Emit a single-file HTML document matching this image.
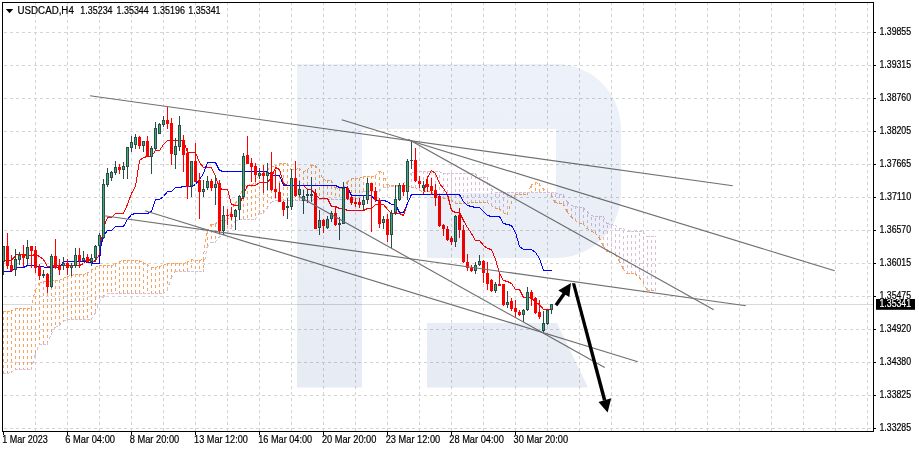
<!DOCTYPE html><html><head><meta charset="utf-8"><title>USDCAD H4</title>
<style>html,body{margin:0;padding:0;background:#fff}svg{display:block}text{font-family:"Liberation Sans",sans-serif;fill:#000}</style></head><body>
<svg width="919" height="452" viewBox="0 0 919 452">
<rect width="919" height="452" fill="#fff"/>
<g stroke="#d4d4d4" stroke-width="1" stroke-dasharray="3 3" shape-rendering="crispEdges">
<line x1="35.5" y1="3" x2="35.5" y2="431" stroke-dashoffset="1"/>
<line x1="67.5" y1="3" x2="67.5" y2="431" stroke-dashoffset="1"/>
<line x1="99.5" y1="3" x2="99.5" y2="431" stroke-dashoffset="1"/>
<line x1="131.5" y1="3" x2="131.5" y2="431" stroke-dashoffset="1"/>
<line x1="163.5" y1="3" x2="163.5" y2="431" stroke-dashoffset="1"/>
<line x1="195.5" y1="3" x2="195.5" y2="431" stroke-dashoffset="1"/>
<line x1="227.5" y1="3" x2="227.5" y2="431" stroke-dashoffset="1"/>
<line x1="259.5" y1="3" x2="259.5" y2="431" stroke-dashoffset="1"/>
<line x1="291.5" y1="3" x2="291.5" y2="431" stroke-dashoffset="1"/>
<line x1="323.5" y1="3" x2="323.5" y2="431" stroke-dashoffset="1"/>
<line x1="355.5" y1="3" x2="355.5" y2="431" stroke-dashoffset="1"/>
<line x1="387.5" y1="3" x2="387.5" y2="431" stroke-dashoffset="1"/>
<line x1="419.5" y1="3" x2="419.5" y2="431" stroke-dashoffset="1"/>
<line x1="451.5" y1="3" x2="451.5" y2="431" stroke-dashoffset="1"/>
<line x1="483.5" y1="3" x2="483.5" y2="431" stroke-dashoffset="1"/>
<line x1="515.5" y1="3" x2="515.5" y2="431" stroke-dashoffset="1"/>
<line x1="547.5" y1="3" x2="547.5" y2="431" stroke-dashoffset="1"/>
<line x1="579.5" y1="3" x2="579.5" y2="431" stroke-dashoffset="1"/>
<line x1="611.5" y1="3" x2="611.5" y2="431" stroke-dashoffset="1"/>
<line x1="643.5" y1="3" x2="643.5" y2="431" stroke-dashoffset="1"/>
<line x1="675.5" y1="3" x2="675.5" y2="431" stroke-dashoffset="1"/>
<line x1="707.5" y1="3" x2="707.5" y2="431" stroke-dashoffset="1"/>
<line x1="739.5" y1="3" x2="739.5" y2="431" stroke-dashoffset="1"/>
<line x1="771.5" y1="3" x2="771.5" y2="431" stroke-dashoffset="1"/>
<line x1="803.5" y1="3" x2="803.5" y2="431" stroke-dashoffset="1"/>
<line x1="835.5" y1="3" x2="835.5" y2="431" stroke-dashoffset="1"/>
<line x1="867.5" y1="3" x2="867.5" y2="431" stroke-dashoffset="1"/>
<line x1="3" y1="32.5" x2="873" y2="32.5" stroke-dashoffset="5"/>
<line x1="3" y1="65.5" x2="873" y2="65.5" stroke-dashoffset="5"/>
<line x1="3" y1="98.5" x2="873" y2="98.5" stroke-dashoffset="5"/>
<line x1="3" y1="131.5" x2="873" y2="131.5" stroke-dashoffset="5"/>
<line x1="3" y1="164.5" x2="873" y2="164.5" stroke-dashoffset="5"/>
<line x1="3" y1="197.5" x2="873" y2="197.5" stroke-dashoffset="5"/>
<line x1="3" y1="230.5" x2="873" y2="230.5" stroke-dashoffset="5"/>
<line x1="3" y1="263.5" x2="873" y2="263.5" stroke-dashoffset="5"/>
<line x1="3" y1="296.5" x2="873" y2="296.5" stroke-dashoffset="5"/>
<line x1="3" y1="329.5" x2="873" y2="329.5" stroke-dashoffset="5"/>
<line x1="3" y1="362.5" x2="873" y2="362.5" stroke-dashoffset="5"/>
<line x1="3" y1="395.5" x2="873" y2="395.5" stroke-dashoffset="5"/>
<line x1="3" y1="428.5" x2="873" y2="428.5" stroke-dashoffset="5"/>
</g>
<rect x="3" y="304" width="870" height="1" fill="#d9d9d9"/>
<g shape-rendering="crispEdges" stroke-width="1" stroke-dasharray="3 3">
<line x1="3.5" y1="311" x2="3.5" y2="374" stroke="#f4a460"/>
<line x1="7.5" y1="311" x2="7.5" y2="374" stroke="#f4a460"/>
<line x1="11.5" y1="311" x2="11.5" y2="373" stroke="#f4a460"/>
<line x1="15.5" y1="308" x2="15.5" y2="370" stroke="#f4a460"/>
<line x1="19.5" y1="308" x2="19.5" y2="370" stroke="#f4a460"/>
<line x1="23.5" y1="308" x2="23.5" y2="370" stroke="#f4a460"/>
<line x1="27.5" y1="308" x2="27.5" y2="370" stroke="#f4a460"/>
<line x1="31.5" y1="308" x2="31.5" y2="370" stroke="#f4a460"/>
<line x1="35.5" y1="290" x2="35.5" y2="356" stroke="#f4a460"/>
<line x1="39.5" y1="283" x2="39.5" y2="345" stroke="#f4a460"/>
<line x1="43.5" y1="281" x2="43.5" y2="345" stroke="#f4a460"/>
<line x1="47.5" y1="281" x2="47.5" y2="345" stroke="#f4a460"/>
<line x1="51.5" y1="281" x2="51.5" y2="335" stroke="#f4a460"/>
<line x1="55.5" y1="280" x2="55.5" y2="328" stroke="#f4a460"/>
<line x1="59.5" y1="280" x2="59.5" y2="326" stroke="#f4a460"/>
<line x1="63.5" y1="278" x2="63.5" y2="322" stroke="#f4a460"/>
<line x1="67.5" y1="276" x2="67.5" y2="320" stroke="#f4a460"/>
<line x1="71.5" y1="275" x2="71.5" y2="320" stroke="#f4a460"/>
<line x1="75.5" y1="274" x2="75.5" y2="320" stroke="#f4a460"/>
<line x1="79.5" y1="274" x2="79.5" y2="320" stroke="#f4a460"/>
<line x1="83.5" y1="274" x2="83.5" y2="320" stroke="#f4a460"/>
<line x1="87.5" y1="273" x2="87.5" y2="320" stroke="#f4a460"/>
<line x1="91.5" y1="270" x2="91.5" y2="320" stroke="#f4a460"/>
<line x1="95.5" y1="267" x2="95.5" y2="314" stroke="#f4a460"/>
<line x1="99.5" y1="265" x2="99.5" y2="303" stroke="#f4a460"/>
<line x1="103.5" y1="265" x2="103.5" y2="298" stroke="#f4a460"/>
<line x1="107.5" y1="265" x2="107.5" y2="294" stroke="#f4a460"/>
<line x1="111.5" y1="265" x2="111.5" y2="294" stroke="#f4a460"/>
<line x1="115.5" y1="264" x2="115.5" y2="294" stroke="#f4a460"/>
<line x1="119.5" y1="261" x2="119.5" y2="294" stroke="#f4a460"/>
<line x1="123.5" y1="260" x2="123.5" y2="294" stroke="#f4a460"/>
<line x1="127.5" y1="260" x2="127.5" y2="294" stroke="#f4a460"/>
<line x1="131.5" y1="260" x2="131.5" y2="294" stroke="#f4a460"/>
<line x1="135.5" y1="260" x2="135.5" y2="294" stroke="#f4a460"/>
<line x1="139.5" y1="260" x2="139.5" y2="294" stroke="#f4a460"/>
<line x1="143.5" y1="262" x2="143.5" y2="294" stroke="#f4a460"/>
<line x1="147.5" y1="264" x2="147.5" y2="294" stroke="#f4a460"/>
<line x1="151.5" y1="267" x2="151.5" y2="294" stroke="#f4a460"/>
<line x1="155.5" y1="267" x2="155.5" y2="294" stroke="#f4a460"/>
<line x1="159.5" y1="266" x2="159.5" y2="294" stroke="#f4a460"/>
<line x1="163.5" y1="265" x2="163.5" y2="294" stroke="#f4a460"/>
<line x1="167.5" y1="263" x2="167.5" y2="291" stroke="#f4a460"/>
<line x1="171.5" y1="263" x2="171.5" y2="279" stroke="#f4a460"/>
<line x1="175.5" y1="263" x2="175.5" y2="272" stroke="#f4a460"/>
<line x1="179.5" y1="263" x2="179.5" y2="272" stroke="#f4a460"/>
<line x1="183.5" y1="263" x2="183.5" y2="272" stroke="#f4a460"/>
<line x1="187.5" y1="262" x2="187.5" y2="272" stroke="#f4a460"/>
<line x1="191.5" y1="259" x2="191.5" y2="272" stroke="#f4a460"/>
<line x1="195.5" y1="260" x2="195.5" y2="272" stroke="#f4a460"/>
<line x1="199.5" y1="260" x2="199.5" y2="272" stroke="#f4a460"/>
<line x1="203.5" y1="259" x2="203.5" y2="272" stroke="#f4a460"/>
<line x1="207.5" y1="231" x2="207.5" y2="248" stroke="#f4a460"/>
<line x1="211.5" y1="224" x2="211.5" y2="243" stroke="#f4a460"/>
<line x1="215.5" y1="224" x2="215.5" y2="243" stroke="#f4a460"/>
<line x1="219.5" y1="220" x2="219.5" y2="238" stroke="#f4a460"/>
<line x1="223.5" y1="220" x2="223.5" y2="235" stroke="#f4a460"/>
<line x1="227.5" y1="220" x2="227.5" y2="234" stroke="#f4a460"/>
<line x1="231.5" y1="212" x2="231.5" y2="229" stroke="#f4a460"/>
<line x1="235.5" y1="203" x2="235.5" y2="222" stroke="#f4a460"/>
<line x1="239.5" y1="199" x2="239.5" y2="220" stroke="#f4a460"/>
<line x1="243.5" y1="186" x2="243.5" y2="220" stroke="#f4a460"/>
<line x1="247.5" y1="185" x2="247.5" y2="220" stroke="#f4a460"/>
<line x1="251.5" y1="184" x2="251.5" y2="220" stroke="#f4a460"/>
<line x1="255.5" y1="183" x2="255.5" y2="220" stroke="#f4a460"/>
<line x1="259.5" y1="174" x2="259.5" y2="214" stroke="#f4a460"/>
<line x1="263.5" y1="174" x2="263.5" y2="214" stroke="#f4a460"/>
<line x1="267.5" y1="170" x2="267.5" y2="209" stroke="#f4a460"/>
<line x1="271.5" y1="166" x2="271.5" y2="203" stroke="#f4a460"/>
<line x1="275.5" y1="166" x2="275.5" y2="201" stroke="#f4a460"/>
<line x1="279.5" y1="163" x2="279.5" y2="201" stroke="#f4a460"/>
<line x1="283.5" y1="163" x2="283.5" y2="201" stroke="#f4a460"/>
<line x1="287.5" y1="163" x2="287.5" y2="201" stroke="#f4a460"/>
<line x1="291.5" y1="169" x2="291.5" y2="201" stroke="#f4a460"/>
<line x1="295.5" y1="169" x2="295.5" y2="201" stroke="#f4a460"/>
<line x1="299.5" y1="168" x2="299.5" y2="201" stroke="#f4a460"/>
<line x1="303.5" y1="171" x2="303.5" y2="201" stroke="#f4a460"/>
<line x1="307.5" y1="170" x2="307.5" y2="201" stroke="#f4a460"/>
<line x1="311.5" y1="165" x2="311.5" y2="201" stroke="#f4a460"/>
<line x1="315.5" y1="165" x2="315.5" y2="200" stroke="#f4a460"/>
<line x1="319.5" y1="169" x2="319.5" y2="200" stroke="#f4a460"/>
<line x1="323.5" y1="179" x2="323.5" y2="200" stroke="#f4a460"/>
<line x1="327.5" y1="180" x2="327.5" y2="200" stroke="#f4a460"/>
<line x1="331.5" y1="180" x2="331.5" y2="200" stroke="#f4a460"/>
<line x1="335.5" y1="187" x2="335.5" y2="200" stroke="#f4a460"/>
<line x1="339.5" y1="188" x2="339.5" y2="200" stroke="#f4a460"/>
<line x1="343.5" y1="188" x2="343.5" y2="200" stroke="#f4a460"/>
<line x1="347.5" y1="182" x2="347.5" y2="200" stroke="#f4a460"/>
<line x1="351.5" y1="178" x2="351.5" y2="200" stroke="#f4a460"/>
<line x1="355.5" y1="178" x2="355.5" y2="200" stroke="#f4a460"/>
<line x1="359.5" y1="178" x2="359.5" y2="198" stroke="#f4a460"/>
<line x1="363.5" y1="176" x2="363.5" y2="192" stroke="#f4a460"/>
<line x1="367.5" y1="176" x2="367.5" y2="192" stroke="#f4a460"/>
<line x1="371.5" y1="176" x2="371.5" y2="192" stroke="#f4a460"/>
<line x1="375.5" y1="176" x2="375.5" y2="192" stroke="#f4a460"/>
<line x1="379.5" y1="171" x2="379.5" y2="192" stroke="#f4a460"/>
<line x1="383.5" y1="172" x2="383.5" y2="188" stroke="#f4a460"/>
<line x1="387.5" y1="184" x2="387.5" y2="188" stroke="#f4a460"/>
<line x1="407.5" y1="186" x2="407.5" y2="179" stroke="#d8bfd8"/>
<line x1="411.5" y1="188" x2="411.5" y2="173" stroke="#d8bfd8"/>
<line x1="415.5" y1="188" x2="415.5" y2="171" stroke="#d8bfd8"/>
<line x1="419.5" y1="191" x2="419.5" y2="171" stroke="#d8bfd8"/>
<line x1="423.5" y1="192" x2="423.5" y2="171" stroke="#d8bfd8"/>
<line x1="427.5" y1="192" x2="427.5" y2="171" stroke="#d8bfd8"/>
<line x1="431.5" y1="192" x2="431.5" y2="171" stroke="#d8bfd8"/>
<line x1="435.5" y1="196" x2="435.5" y2="171" stroke="#d8bfd8"/>
<line x1="439.5" y1="196" x2="439.5" y2="171" stroke="#d8bfd8"/>
<line x1="443.5" y1="199" x2="443.5" y2="173" stroke="#d8bfd8"/>
<line x1="447.5" y1="199" x2="447.5" y2="173" stroke="#d8bfd8"/>
<line x1="451.5" y1="200" x2="451.5" y2="173" stroke="#d8bfd8"/>
<line x1="455.5" y1="204" x2="455.5" y2="173" stroke="#d8bfd8"/>
<line x1="459.5" y1="204" x2="459.5" y2="173" stroke="#d8bfd8"/>
<line x1="463.5" y1="204" x2="463.5" y2="173" stroke="#d8bfd8"/>
<line x1="467.5" y1="204" x2="467.5" y2="173" stroke="#d8bfd8"/>
<line x1="471.5" y1="203" x2="471.5" y2="173" stroke="#d8bfd8"/>
<line x1="475.5" y1="203" x2="475.5" y2="173" stroke="#d8bfd8"/>
<line x1="479.5" y1="203" x2="479.5" y2="177" stroke="#d8bfd8"/>
<line x1="483.5" y1="203" x2="483.5" y2="177" stroke="#d8bfd8"/>
<line x1="487.5" y1="203" x2="487.5" y2="177" stroke="#d8bfd8"/>
<line x1="491.5" y1="206" x2="491.5" y2="188" stroke="#d8bfd8"/>
<line x1="495.5" y1="209" x2="495.5" y2="192" stroke="#d8bfd8"/>
<line x1="499.5" y1="209" x2="499.5" y2="192" stroke="#d8bfd8"/>
<line x1="503.5" y1="213" x2="503.5" y2="192" stroke="#d8bfd8"/>
<line x1="507.5" y1="215" x2="507.5" y2="192" stroke="#d8bfd8"/>
<line x1="511.5" y1="204" x2="511.5" y2="192" stroke="#d8bfd8"/>
<line x1="515.5" y1="195" x2="515.5" y2="192" stroke="#d8bfd8"/>
<line x1="519.5" y1="195" x2="519.5" y2="192" stroke="#d8bfd8"/>
<line x1="523.5" y1="195" x2="523.5" y2="192" stroke="#d8bfd8"/>
<line x1="527.5" y1="195" x2="527.5" y2="192" stroke="#d8bfd8"/>
<line x1="531.5" y1="185" x2="531.5" y2="193" stroke="#f4a460"/>
<line x1="535.5" y1="182" x2="535.5" y2="193" stroke="#f4a460"/>
<line x1="539.5" y1="183" x2="539.5" y2="193" stroke="#f4a460"/>
<line x1="543.5" y1="188" x2="543.5" y2="193" stroke="#f4a460"/>
<line x1="551.5" y1="195" x2="551.5" y2="192" stroke="#d8bfd8"/>
<line x1="555.5" y1="203" x2="555.5" y2="192" stroke="#d8bfd8"/>
<line x1="559.5" y1="204" x2="559.5" y2="194" stroke="#d8bfd8"/>
<line x1="563.5" y1="204" x2="563.5" y2="194" stroke="#d8bfd8"/>
<line x1="567.5" y1="212" x2="567.5" y2="201" stroke="#d8bfd8"/>
<line x1="571.5" y1="217" x2="571.5" y2="205" stroke="#d8bfd8"/>
<line x1="575.5" y1="221" x2="575.5" y2="206" stroke="#d8bfd8"/>
<line x1="579.5" y1="224" x2="579.5" y2="207" stroke="#d8bfd8"/>
<line x1="583.5" y1="224" x2="583.5" y2="207" stroke="#d8bfd8"/>
<line x1="587.5" y1="229" x2="587.5" y2="211" stroke="#d8bfd8"/>
<line x1="591.5" y1="232" x2="591.5" y2="215" stroke="#d8bfd8"/>
<line x1="595.5" y1="233" x2="595.5" y2="216" stroke="#d8bfd8"/>
<line x1="599.5" y1="238" x2="599.5" y2="216" stroke="#d8bfd8"/>
<line x1="603.5" y1="246" x2="603.5" y2="216" stroke="#d8bfd8"/>
<line x1="607.5" y1="252" x2="607.5" y2="223" stroke="#d8bfd8"/>
<line x1="611.5" y1="253" x2="611.5" y2="224" stroke="#d8bfd8"/>
<line x1="615.5" y1="255" x2="615.5" y2="225" stroke="#d8bfd8"/>
<line x1="619.5" y1="261" x2="619.5" y2="228" stroke="#d8bfd8"/>
<line x1="623.5" y1="269" x2="623.5" y2="228" stroke="#d8bfd8"/>
<line x1="627.5" y1="274" x2="627.5" y2="231" stroke="#d8bfd8"/>
<line x1="631.5" y1="274" x2="631.5" y2="231" stroke="#d8bfd8"/>
<line x1="635.5" y1="274" x2="635.5" y2="231" stroke="#d8bfd8"/>
<line x1="639.5" y1="278" x2="639.5" y2="231" stroke="#d8bfd8"/>
<line x1="643.5" y1="282" x2="643.5" y2="231" stroke="#d8bfd8"/>
<line x1="647.5" y1="291" x2="647.5" y2="236" stroke="#d8bfd8"/>
<line x1="651.5" y1="291" x2="651.5" y2="236" stroke="#d8bfd8"/>
<line x1="655.5" y1="291" x2="655.5" y2="236" stroke="#d8bfd8"/>
</g>
<path d="M3.0 311.5L7.0 311.5M7.0 311.5L11.0 311.5M11.0 311.5L15.0 308.5M15.0 308.5L19.0 308.5M19.0 308.5L23.0 308.5M23.0 308.5L27.0 308.5M27.0 308.5L31.0 308.5M31.0 308.5L35.0 290.5M35.0 290.5L39.0 283.5M39.0 283.5L43.0 281.5M43.0 281.5L47.0 281.5M47.0 281.5L51.0 281.5M51.0 281.5L55.0 280.5M55.0 280.5L59.0 280.5M59.0 280.5L63.0 278.5M63.0 278.5L67.0 276.5M67.0 276.5L71.0 275.5M71.0 275.5L75.0 274.5M75.0 274.5L79.0 274.5M79.0 274.5L83.0 274.5M83.0 274.5L87.0 273.5M87.0 273.5L91.0 270.5M91.0 270.5L95.0 267.5M95.0 267.5L99.0 265.5M99.0 265.5L103.0 265.5M103.0 265.5L107.0 265.5M107.0 265.5L111.0 265.5M111.0 265.5L115.0 264.5M115.0 264.5L119.0 261.5M119.0 261.5L123.0 260.5M123.0 260.5L127.0 260.5M127.0 260.5L131.0 260.5M131.0 260.5L135.0 260.5M135.0 260.5L139.0 260.5M139.0 260.5L143.0 262.5M143.0 262.5L147.0 264.5M147.0 264.5L151.0 267.5M151.0 267.5L155.0 267.5M155.0 267.5L159.0 266.5M159.0 266.5L163.0 265.5M163.0 265.5L167.0 263.5M167.0 263.5L171.0 263.5M171.0 263.5L175.0 263.5M175.0 263.5L179.0 263.5M179.0 263.5L183.0 263.5M183.0 263.5L187.0 262.5M187.0 262.5L191.0 259.5M191.0 259.5L195.0 260.5M195.0 260.5L199.0 260.5M199.0 260.5L203.0 259.5M203.0 259.5L207.0 231.5M207.0 231.5L211.0 224.5M211.0 224.5L215.0 224.5M215.0 224.5L219.0 220.5M219.0 220.5L223.0 220.5M223.0 220.5L227.0 220.5M227.0 220.5L231.0 212.5M231.0 212.5L235.0 203.5M235.0 203.5L239.0 199.5M239.0 199.5L243.0 186.5M243.0 186.5L247.0 185.5M247.0 185.5L251.0 184.5M251.0 184.5L255.0 183.5M255.0 183.5L259.0 174.5M259.0 174.5L263.0 174.5M263.0 174.5L267.0 170.5M267.0 170.5L271.0 166.5M271.0 166.5L275.0 166.5M275.0 166.5L279.0 163.5M279.0 163.5L283.0 163.5M283.0 163.5L287.0 163.5M287.0 163.5L291.0 169.5M291.0 169.5L295.0 169.5M295.0 169.5L299.0 168.5M299.0 168.5L303.0 171.5M303.0 171.5L307.0 170.5M307.0 170.5L311.0 165.5M311.0 165.5L315.0 165.5M315.0 165.5L319.0 169.5M319.0 169.5L323.0 179.5M323.0 179.5L327.0 180.5M327.0 180.5L331.0 180.5M331.0 180.5L335.0 187.5M335.0 187.5L339.0 188.5M339.0 188.5L343.0 188.5M343.0 188.5L347.0 182.5M347.0 182.5L351.0 178.5M351.0 178.5L355.0 178.5M355.0 178.5L359.0 178.5M359.0 178.5L363.0 176.5M363.0 176.5L367.0 176.5M367.0 176.5L371.0 176.5M371.0 176.5L375.0 176.5M375.0 176.5L379.0 171.5M379.0 171.5L383.0 172.5M383.0 172.5L387.0 184.5M387.0 184.5L391.0 185.5M391.0 185.5L395.0 185.5M395.0 185.5L399.0 185.5M399.0 185.5L403.0 185.5M403.0 185.5L407.0 185.5M407.0 185.5L411.0 187.5M411.0 187.5L415.0 187.5M415.0 187.5L419.0 190.5M419.0 190.5L423.0 191.5M423.0 191.5L427.0 191.5M427.0 191.5L431.0 191.5M431.0 191.5L435.0 195.5M435.0 195.5L439.0 195.5M439.0 195.5L443.0 198.5M443.0 198.5L447.0 198.5M447.0 198.5L451.0 199.5M451.0 199.5L455.0 203.5M455.0 203.5L459.0 203.5M459.0 203.5L463.0 203.5M463.0 203.5L467.0 203.5M467.0 203.5L471.0 202.5M471.0 202.5L475.0 202.5M475.0 202.5L479.0 202.5M479.0 202.5L483.0 202.5M483.0 202.5L487.0 202.5M487.0 202.5L491.0 205.5M491.0 205.5L495.0 208.5M495.0 208.5L499.0 208.5M499.0 208.5L503.0 212.5M503.0 212.5L507.0 214.5M507.0 214.5L511.0 203.5M511.0 203.5L515.0 194.5M515.0 194.5L519.0 194.5M519.0 194.5L523.0 194.5M523.0 194.5L527.0 194.5M527.0 194.5L531.0 185.5M531.0 185.5L535.0 182.5M535.0 182.5L539.0 183.5M539.0 183.5L543.0 188.5M543.0 188.5L547.0 191.5M547.0 191.5L551.0 194.5M551.0 194.5L555.0 202.5M555.0 202.5L559.0 203.5M559.0 203.5L563.0 203.5M563.0 203.5L567.0 211.5M567.0 211.5L571.0 216.5M571.0 216.5L575.0 220.5M575.0 220.5L579.0 223.5M579.0 223.5L583.0 223.5M583.0 223.5L587.0 228.5M587.0 228.5L591.0 231.5M591.0 231.5L595.0 232.5M595.0 232.5L599.0 237.5M599.0 237.5L603.0 245.5M603.0 245.5L607.0 251.5M607.0 251.5L611.0 252.5M611.0 252.5L615.0 254.5M615.0 254.5L619.0 260.5M619.0 260.5L623.0 268.5M623.0 268.5L627.0 273.5M627.0 273.5L631.0 273.5M631.0 273.5L635.0 273.5M635.0 273.5L639.0 277.5M639.0 277.5L643.0 281.5M643.0 281.5L647.0 290.5M647.0 290.5L651.0 290.5M651.0 290.5L655.0 290.5" fill="none" stroke="#f4a460" stroke-width="1" stroke-dasharray="3 3" shape-rendering="crispEdges"/>
<path d="M3.0 373.5L7.0 373.5M7.0 373.5L11.0 372.5M11.0 372.5L15.0 369.5M15.0 369.5L19.0 369.5M19.0 369.5L23.0 369.5M23.0 369.5L27.0 369.5M27.0 369.5L31.0 369.5M31.0 369.5L35.0 355.5M35.0 355.5L39.0 344.5M39.0 344.5L43.0 344.5M43.0 344.5L47.0 344.5M47.0 344.5L51.0 334.5M51.0 334.5L55.0 327.5M55.0 327.5L59.0 325.5M59.0 325.5L63.0 321.5M63.0 321.5L67.0 319.5M67.0 319.5L71.0 319.5M71.0 319.5L75.0 319.5M75.0 319.5L79.0 319.5M79.0 319.5L83.0 319.5M83.0 319.5L87.0 319.5M87.0 319.5L91.0 319.5M91.0 319.5L95.0 313.5M95.0 313.5L99.0 302.5M99.0 302.5L103.0 297.5M103.0 297.5L107.0 293.5M107.0 293.5L111.0 293.5M111.0 293.5L115.0 293.5M115.0 293.5L119.0 293.5M119.0 293.5L123.0 293.5M123.0 293.5L127.0 293.5M127.0 293.5L131.0 293.5M131.0 293.5L135.0 293.5M135.0 293.5L139.0 293.5M139.0 293.5L143.0 293.5M143.0 293.5L147.0 293.5M147.0 293.5L151.0 293.5M151.0 293.5L155.0 293.5M155.0 293.5L159.0 293.5M159.0 293.5L163.0 293.5M163.0 293.5L167.0 290.5M167.0 290.5L171.0 278.5M171.0 278.5L175.0 271.5M175.0 271.5L179.0 271.5M179.0 271.5L183.0 271.5M183.0 271.5L187.0 271.5M187.0 271.5L191.0 271.5M191.0 271.5L195.0 271.5M195.0 271.5L199.0 271.5M199.0 271.5L203.0 271.5M203.0 271.5L207.0 247.5M207.0 247.5L211.0 242.5M211.0 242.5L215.0 242.5M215.0 242.5L219.0 237.5M219.0 237.5L223.0 234.5M223.0 234.5L227.0 233.5M227.0 233.5L231.0 228.5M231.0 228.5L235.0 221.5M235.0 221.5L239.0 219.5M239.0 219.5L243.0 219.5M243.0 219.5L247.0 219.5M247.0 219.5L251.0 219.5M251.0 219.5L255.0 219.5M255.0 219.5L259.0 213.5M259.0 213.5L263.0 213.5M263.0 213.5L267.0 208.5M267.0 208.5L271.0 202.5M271.0 202.5L275.0 200.5M275.0 200.5L279.0 200.5M279.0 200.5L283.0 200.5M283.0 200.5L287.0 200.5M287.0 200.5L291.0 200.5M291.0 200.5L295.0 200.5M295.0 200.5L299.0 200.5M299.0 200.5L303.0 200.5M303.0 200.5L307.0 200.5M307.0 200.5L311.0 200.5M311.0 200.5L315.0 199.5M315.0 199.5L319.0 199.5M319.0 199.5L323.0 199.5M323.0 199.5L327.0 199.5M327.0 199.5L331.0 199.5M331.0 199.5L335.0 199.5M335.0 199.5L339.0 199.5M339.0 199.5L343.0 199.5M343.0 199.5L347.0 199.5M347.0 199.5L351.0 199.5M351.0 199.5L355.0 199.5M355.0 199.5L359.0 197.5M359.0 197.5L363.0 191.5M363.0 191.5L367.0 191.5M367.0 191.5L371.0 191.5M371.0 191.5L375.0 191.5M375.0 191.5L379.0 191.5M379.0 191.5L383.0 187.5M383.0 187.5L387.0 187.5M387.0 187.5L391.0 186.5M391.0 186.5L395.0 186.5M395.0 186.5L399.0 186.5M399.0 186.5L403.0 184.5M403.0 184.5L407.0 179.5M407.0 179.5L411.0 173.5M411.0 173.5L415.0 171.5M415.0 171.5L419.0 171.5M419.0 171.5L423.0 171.5M423.0 171.5L427.0 171.5M427.0 171.5L431.0 171.5M431.0 171.5L435.0 171.5M435.0 171.5L439.0 171.5M439.0 171.5L443.0 173.5M443.0 173.5L447.0 173.5M447.0 173.5L451.0 173.5M451.0 173.5L455.0 173.5M455.0 173.5L459.0 173.5M459.0 173.5L463.0 173.5M463.0 173.5L467.0 173.5M467.0 173.5L471.0 173.5M471.0 173.5L475.0 173.5M475.0 173.5L479.0 177.5M479.0 177.5L483.0 177.5M483.0 177.5L487.0 177.5M487.0 177.5L491.0 188.5M491.0 188.5L495.0 192.5M495.0 192.5L499.0 192.5M499.0 192.5L503.0 192.5M503.0 192.5L507.0 192.5M507.0 192.5L511.0 192.5M511.0 192.5L515.0 192.5M515.0 192.5L519.0 192.5M519.0 192.5L523.0 192.5M523.0 192.5L527.0 192.5M527.0 192.5L531.0 192.5M531.0 192.5L535.0 192.5M535.0 192.5L539.0 192.5M539.0 192.5L543.0 192.5M543.0 192.5L547.0 192.5M547.0 192.5L551.0 192.5M551.0 192.5L555.0 192.5M555.0 192.5L559.0 194.5M559.0 194.5L563.0 194.5M563.0 194.5L567.0 201.5M567.0 201.5L571.0 205.5M571.0 205.5L575.0 206.5M575.0 206.5L579.0 207.5M579.0 207.5L583.0 207.5M583.0 207.5L587.0 211.5M587.0 211.5L591.0 215.5M591.0 215.5L595.0 216.5M595.0 216.5L599.0 216.5M599.0 216.5L603.0 216.5M603.0 216.5L607.0 223.5M607.0 223.5L611.0 224.5M611.0 224.5L615.0 225.5M615.0 225.5L619.0 228.5M619.0 228.5L623.0 228.5M623.0 228.5L627.0 231.5M627.0 231.5L631.0 231.5M631.0 231.5L635.0 231.5M635.0 231.5L639.0 231.5M639.0 231.5L643.0 231.5M643.0 231.5L647.0 236.5M647.0 236.5L651.0 236.5M651.0 236.5L655.0 236.5" fill="none" stroke="#d8bfd8" stroke-width="1" stroke-dasharray="3 3" shape-rendering="crispEdges"/>
<polyline points="3.0,260.5 11.5,260.5 15.5,255.5 17.0,254.5 23.5,254.5 27.5,255.5 31.5,255.5 35.5,254.5 39.5,256.5 43.5,259.5 47.5,266.5 51.5,266.5 55.5,265.5 59.5,265.5 63.5,265.5 67.5,265.5 71.5,265.5 75.5,265.5 79.5,265.5 83.5,263.5 87.5,257.5 91.5,262.5 95.5,260.5 99.5,254.5 103.5,227.5 107.5,217.5 111.5,217.5 115.5,213.5 119.5,213.5 123.5,213.5 127.5,204.5 131.5,193.5 135.5,186.5 139.5,160.5 143.5,157.5 147.5,156.5 151.5,156.5 155.5,150.5 159.5,150.5 163.5,144.5 167.5,140.5 171.5,140.5 175.5,140.5 179.5,140.5 183.5,140.5 187.5,152.5 191.5,152.5 195.5,152.5 199.5,162.5 203.5,167.5 207.5,167.5 211.5,167.5 215.5,176.5 219.5,188.5 223.5,189.5 227.5,189.5 231.5,204.5 235.5,205.5 239.5,205.5 243.5,194.5 247.5,185.5 251.5,185.5 255.5,185.5 259.5,182.5 263.5,182.5 267.5,182.5 271.5,177.5 275.5,167.5 279.5,169.5 283.5,183.5 287.5,185.5 291.5,185.5 295.5,185.5 299.5,185.5 303.5,185.5 307.5,189.5 311.5,189.5 315.5,194.5 319.5,198.5 323.5,198.5 327.5,198.5 331.5,206.5 335.5,206.5 339.5,208.5 343.5,208.5 347.5,210.5 351.5,210.5 355.5,210.5 359.5,210.5 363.5,210.5 367.5,208.5 371.5,208.5 375.5,204.5 379.5,204.5 383.5,204.5 387.5,209.5 391.5,213.5 395.5,213.5 399.5,213.5 403.5,215.5 407.5,203.5 411.5,194.5 415.5,194.5 419.5,194.5 423.5,194.5 427.5,177.5 431.5,170.5 435.5,173.5 439.5,183.5 443.5,188.5 447.5,194.5 451.5,210.5 455.5,212.5 459.5,212.5 463.5,220.5 467.5,227.5 471.5,233.5 475.5,240.5 479.5,240.5 483.5,245.5 487.5,248.5 491.5,249.5 495.5,259.5 499.5,273.5 503.5,280.5 507.5,281.5 511.5,283.5 515.5,289.5 519.5,289.5 523.5,297.5 527.5,297.5 531.5,297.5 535.5,302.5 539.5,304.5 543.5,309.5 547.5,309.5 551.5,309.5" fill="none" stroke="#ff0000" stroke-width="1" shape-rendering="crispEdges"/>
<polyline points="3.0,271.5 11.5,271.5 15.5,267.5 23.5,267.5 27.5,265.5 39.5,266.5 47.5,267.5 59.5,267.5 63.5,261.5 83.5,261.5 95.5,263.5 99.5,263.5 100.5,247.5 103.5,235.5 107.5,230.5 111.5,230.5 115.5,226.5 119.5,226.5 123.5,226.5 127.5,219.5 131.5,214.5 135.5,213.5 139.5,213.5 143.5,213.5 147.5,213.5 151.5,211.5 155.5,199.5 159.5,199.5 163.5,196.5 167.5,191.5 171.5,191.5 175.5,187.5 179.5,187.5 183.5,186.5 187.5,186.5 191.5,186.5 195.5,184.5 199.5,179.5 203.5,173.5 207.5,162.5 211.5,162.5 215.5,162.5 219.5,170.5 223.5,171.5 227.5,171.5 231.5,171.5 235.5,171.5 239.5,171.5 243.5,171.5 247.5,171.5 251.5,171.5 255.5,171.5 259.5,171.5 263.5,171.5 267.5,171.5 271.5,175.5 275.5,175.5 279.5,175.5 283.5,185.5 287.5,185.5 291.5,185.5 295.5,185.5 299.5,185.5 303.5,185.5 307.5,185.5 311.5,185.5 315.5,185.5 319.5,185.5 323.5,185.5 327.5,185.5 331.5,185.5 335.5,185.5 339.5,187.5 343.5,187.5 347.5,187.5 351.5,195.5 355.5,195.5 359.5,195.5 363.5,195.5 367.5,195.5 371.5,195.5 375.5,200.5 379.5,200.5 383.5,200.5 387.5,201.5 391.5,204.5 395.5,204.5 399.5,212.5 403.5,212.5 407.5,203.5 411.5,194.5 415.5,194.5 419.5,194.5 423.5,194.5 427.5,194.5 431.5,194.5 435.5,194.5 439.5,194.5 443.5,194.5 447.5,194.5 451.5,194.5 455.5,194.5 459.5,194.5 463.5,201.5 467.5,205.5 471.5,206.5 475.5,207.5 479.5,207.5 483.5,211.5 487.5,215.5 491.5,216.5 495.5,216.5 499.5,216.5 503.5,223.5 507.5,224.5 511.5,225.5 515.5,232.5 519.5,246.5 523.5,249.5 527.5,249.5 531.5,249.5 535.5,252.5 539.5,258.5 543.5,270.5 547.5,270.5 551.5,270.5" fill="none" stroke="#0000ff" stroke-width="1" shape-rendering="crispEdges"/>
<g shape-rendering="crispEdges">
<rect x="3" y="246" width="1" height="29" fill="#2c4c4a"/>
<rect x="2" y="246" width="3" height="16" fill="#2c4c4a"/>
<rect x="3" y="247" width="1" height="14" fill="#3cae70"/>
<rect x="7" y="233" width="1" height="36" fill="#ff0000"/>
<rect x="6" y="246" width="3" height="20" fill="#ff0000"/>
<rect x="11" y="255" width="1" height="16" fill="#ff0000"/>
<rect x="10" y="265" width="3" height="6" fill="#ff0000"/>
<rect x="15" y="249" width="1" height="27" fill="#2c4c4a"/>
<rect x="14" y="259" width="3" height="11" fill="#2c4c4a"/>
<rect x="15" y="260" width="1" height="9" fill="#3cae70"/>
<rect x="19" y="252" width="1" height="13" fill="#2c4c4a"/>
<rect x="18" y="255" width="3" height="5" fill="#2c4c4a"/>
<rect x="19" y="256" width="1" height="3" fill="#3cae70"/>
<rect x="23" y="245" width="1" height="22" fill="#ff0000"/>
<rect x="22" y="255" width="3" height="3" fill="#ff0000"/>
<rect x="27" y="240" width="1" height="25" fill="#2c4c4a"/>
<rect x="26" y="247" width="3" height="12" fill="#2c4c4a"/>
<rect x="27" y="248" width="1" height="10" fill="#3cae70"/>
<rect x="31" y="246" width="1" height="22" fill="#ff0000"/>
<rect x="30" y="246" width="3" height="5" fill="#ff0000"/>
<rect x="35" y="246" width="1" height="27" fill="#ff0000"/>
<rect x="34" y="250" width="3" height="18" fill="#ff0000"/>
<rect x="39" y="264" width="1" height="16" fill="#ff0000"/>
<rect x="38" y="267" width="3" height="9" fill="#ff0000"/>
<rect x="43" y="270" width="1" height="8" fill="#2c4c4a"/>
<rect x="42" y="274" width="3" height="2" fill="#2c4c4a"/>
<rect x="47" y="273" width="1" height="20" fill="#ff0000"/>
<rect x="46" y="274" width="3" height="13" fill="#ff0000"/>
<rect x="51" y="254" width="1" height="34" fill="#2c4c4a"/>
<rect x="50" y="256" width="3" height="31" fill="#2c4c4a"/>
<rect x="51" y="257" width="1" height="29" fill="#3cae70"/>
<rect x="55" y="239" width="1" height="30" fill="#ff0000"/>
<rect x="54" y="256" width="3" height="12" fill="#ff0000"/>
<rect x="59" y="259" width="1" height="16" fill="#ff0000"/>
<rect x="58" y="266" width="3" height="4" fill="#ff0000"/>
<rect x="63" y="257" width="1" height="13" fill="#2c4c4a"/>
<rect x="62" y="263" width="3" height="3" fill="#2c4c4a"/>
<rect x="63" y="264" width="1" height="1" fill="#3cae70"/>
<rect x="67" y="259" width="1" height="16" fill="#ff0000"/>
<rect x="66" y="263" width="3" height="5" fill="#ff0000"/>
<rect x="71" y="263" width="1" height="13" fill="#2c4c4a"/>
<rect x="70" y="265" width="3" height="3" fill="#2c4c4a"/>
<rect x="71" y="266" width="1" height="1" fill="#3cae70"/>
<rect x="75" y="248" width="1" height="20" fill="#2c4c4a"/>
<rect x="74" y="255" width="3" height="11" fill="#2c4c4a"/>
<rect x="75" y="256" width="1" height="9" fill="#3cae70"/>
<rect x="79" y="248" width="1" height="20" fill="#ff0000"/>
<rect x="78" y="255" width="3" height="6" fill="#ff0000"/>
<rect x="83" y="251" width="1" height="10" fill="#2c4c4a"/>
<rect x="82" y="258" width="3" height="3" fill="#2c4c4a"/>
<rect x="83" y="259" width="1" height="1" fill="#3cae70"/>
<rect x="87" y="254" width="1" height="9" fill="#ff0000"/>
<rect x="86" y="257" width="3" height="5" fill="#ff0000"/>
<rect x="91" y="254" width="1" height="12" fill="#2c4c4a"/>
<rect x="90" y="258" width="3" height="4" fill="#2c4c4a"/>
<rect x="91" y="259" width="1" height="2" fill="#3cae70"/>
<rect x="95" y="245" width="1" height="17" fill="#2c4c4a"/>
<rect x="94" y="246" width="3" height="12" fill="#2c4c4a"/>
<rect x="95" y="247" width="1" height="10" fill="#3cae70"/>
<rect x="99" y="233" width="1" height="19" fill="#2c4c4a"/>
<rect x="98" y="235" width="3" height="11" fill="#2c4c4a"/>
<rect x="99" y="236" width="1" height="9" fill="#3cae70"/>
<rect x="103" y="179" width="1" height="60" fill="#2c4c4a"/>
<rect x="102" y="184" width="3" height="54" fill="#2c4c4a"/>
<rect x="103" y="185" width="1" height="52" fill="#3cae70"/>
<rect x="107" y="168" width="1" height="19" fill="#2c4c4a"/>
<rect x="106" y="173" width="3" height="12" fill="#2c4c4a"/>
<rect x="107" y="174" width="1" height="10" fill="#3cae70"/>
<rect x="111" y="171" width="1" height="10" fill="#2c4c4a"/>
<rect x="110" y="172" width="3" height="6" fill="#2c4c4a"/>
<rect x="111" y="173" width="1" height="4" fill="#3cae70"/>
<rect x="115" y="161" width="1" height="14" fill="#2c4c4a"/>
<rect x="114" y="167" width="3" height="6" fill="#2c4c4a"/>
<rect x="115" y="168" width="1" height="4" fill="#3cae70"/>
<rect x="119" y="164" width="1" height="10" fill="#ff0000"/>
<rect x="118" y="167" width="3" height="3" fill="#ff0000"/>
<rect x="123" y="162" width="1" height="17" fill="#2c4c4a"/>
<rect x="122" y="166" width="3" height="4" fill="#2c4c4a"/>
<rect x="123" y="167" width="1" height="2" fill="#3cae70"/>
<rect x="127" y="147" width="1" height="32" fill="#2c4c4a"/>
<rect x="126" y="147" width="3" height="20" fill="#2c4c4a"/>
<rect x="127" y="148" width="1" height="18" fill="#3cae70"/>
<rect x="131" y="136" width="1" height="16" fill="#2c4c4a"/>
<rect x="130" y="142" width="3" height="6" fill="#2c4c4a"/>
<rect x="131" y="143" width="1" height="4" fill="#3cae70"/>
<rect x="135" y="134" width="1" height="15" fill="#2c4c4a"/>
<rect x="134" y="137" width="3" height="8" fill="#2c4c4a"/>
<rect x="135" y="138" width="1" height="6" fill="#3cae70"/>
<rect x="139" y="136" width="1" height="13" fill="#ff0000"/>
<rect x="138" y="137" width="3" height="9" fill="#ff0000"/>
<rect x="143" y="141" width="1" height="11" fill="#2c4c4a"/>
<rect x="142" y="141" width="3" height="5" fill="#2c4c4a"/>
<rect x="143" y="142" width="1" height="3" fill="#3cae70"/>
<rect x="147" y="136" width="1" height="21" fill="#ff0000"/>
<rect x="146" y="141" width="3" height="16" fill="#ff0000"/>
<rect x="151" y="146" width="1" height="28" fill="#2c4c4a"/>
<rect x="150" y="148" width="3" height="9" fill="#2c4c4a"/>
<rect x="151" y="149" width="1" height="7" fill="#3cae70"/>
<rect x="155" y="122" width="1" height="29" fill="#2c4c4a"/>
<rect x="154" y="128" width="3" height="21" fill="#2c4c4a"/>
<rect x="155" y="129" width="1" height="19" fill="#3cae70"/>
<rect x="159" y="123" width="1" height="11" fill="#2c4c4a"/>
<rect x="158" y="124" width="3" height="10" fill="#2c4c4a"/>
<rect x="159" y="125" width="1" height="8" fill="#3cae70"/>
<rect x="163" y="116" width="1" height="11" fill="#2c4c4a"/>
<rect x="162" y="120" width="3" height="5" fill="#2c4c4a"/>
<rect x="163" y="121" width="1" height="3" fill="#3cae70"/>
<rect x="167" y="107" width="1" height="22" fill="#ff0000"/>
<rect x="166" y="120" width="3" height="4" fill="#ff0000"/>
<rect x="171" y="118" width="1" height="47" fill="#ff0000"/>
<rect x="170" y="123" width="3" height="31" fill="#ff0000"/>
<rect x="175" y="138" width="1" height="31" fill="#2c4c4a"/>
<rect x="174" y="146" width="3" height="9" fill="#2c4c4a"/>
<rect x="175" y="147" width="1" height="7" fill="#3cae70"/>
<rect x="179" y="116" width="1" height="35" fill="#2c4c4a"/>
<rect x="178" y="125" width="3" height="22" fill="#2c4c4a"/>
<rect x="179" y="126" width="1" height="20" fill="#3cae70"/>
<rect x="183" y="135" width="1" height="37" fill="#ff0000"/>
<rect x="182" y="140" width="3" height="15" fill="#ff0000"/>
<rect x="187" y="148" width="1" height="51" fill="#ff0000"/>
<rect x="186" y="153" width="3" height="34" fill="#ff0000"/>
<rect x="191" y="161" width="1" height="36" fill="#2c4c4a"/>
<rect x="190" y="161" width="3" height="25" fill="#2c4c4a"/>
<rect x="191" y="162" width="1" height="23" fill="#3cae70"/>
<rect x="195" y="143" width="1" height="39" fill="#ff0000"/>
<rect x="194" y="161" width="3" height="21" fill="#ff0000"/>
<rect x="199" y="173" width="1" height="46" fill="#ff0000"/>
<rect x="198" y="180" width="3" height="12" fill="#ff0000"/>
<rect x="203" y="180" width="1" height="17" fill="#2c4c4a"/>
<rect x="202" y="189" width="3" height="3" fill="#2c4c4a"/>
<rect x="203" y="190" width="1" height="1" fill="#3cae70"/>
<rect x="207" y="176" width="1" height="14" fill="#2c4c4a"/>
<rect x="206" y="181" width="3" height="7" fill="#2c4c4a"/>
<rect x="207" y="182" width="1" height="5" fill="#3cae70"/>
<rect x="211" y="179" width="1" height="12" fill="#ff0000"/>
<rect x="210" y="181" width="3" height="7" fill="#ff0000"/>
<rect x="215" y="175" width="1" height="30" fill="#2c4c4a"/>
<rect x="214" y="184" width="3" height="4" fill="#2c4c4a"/>
<rect x="215" y="185" width="1" height="2" fill="#3cae70"/>
<rect x="219" y="180" width="1" height="54" fill="#ff0000"/>
<rect x="218" y="183" width="3" height="48" fill="#ff0000"/>
<rect x="223" y="206" width="1" height="29" fill="#2c4c4a"/>
<rect x="222" y="215" width="3" height="16" fill="#2c4c4a"/>
<rect x="223" y="216" width="1" height="14" fill="#3cae70"/>
<rect x="227" y="209" width="1" height="16" fill="#ff0000"/>
<rect x="226" y="215" width="3" height="1" fill="#ff0000"/>
<rect x="231" y="207" width="1" height="13" fill="#ff0000"/>
<rect x="230" y="214" width="3" height="3" fill="#ff0000"/>
<rect x="235" y="209" width="1" height="21" fill="#2c4c4a"/>
<rect x="234" y="210" width="3" height="7" fill="#2c4c4a"/>
<rect x="235" y="211" width="1" height="5" fill="#3cae70"/>
<rect x="239" y="195" width="1" height="25" fill="#2c4c4a"/>
<rect x="238" y="196" width="3" height="14" fill="#2c4c4a"/>
<rect x="239" y="197" width="1" height="12" fill="#3cae70"/>
<rect x="243" y="153" width="1" height="46" fill="#2c4c4a"/>
<rect x="242" y="156" width="3" height="41" fill="#2c4c4a"/>
<rect x="243" y="157" width="1" height="39" fill="#3cae70"/>
<rect x="247" y="136" width="1" height="28" fill="#ff0000"/>
<rect x="246" y="155" width="3" height="9" fill="#ff0000"/>
<rect x="251" y="158" width="1" height="24" fill="#ff0000"/>
<rect x="250" y="163" width="3" height="4" fill="#ff0000"/>
<rect x="255" y="163" width="1" height="19" fill="#ff0000"/>
<rect x="254" y="166" width="3" height="9" fill="#ff0000"/>
<rect x="259" y="168" width="1" height="11" fill="#2c4c4a"/>
<rect x="258" y="173" width="3" height="3" fill="#2c4c4a"/>
<rect x="259" y="174" width="1" height="1" fill="#3cae70"/>
<rect x="263" y="165" width="1" height="28" fill="#ff0000"/>
<rect x="262" y="173" width="3" height="3" fill="#ff0000"/>
<rect x="267" y="163" width="1" height="27" fill="#2c4c4a"/>
<rect x="266" y="172" width="3" height="4" fill="#2c4c4a"/>
<rect x="267" y="173" width="1" height="2" fill="#3cae70"/>
<rect x="271" y="152" width="1" height="39" fill="#ff0000"/>
<rect x="270" y="172" width="3" height="18" fill="#ff0000"/>
<rect x="275" y="170" width="1" height="28" fill="#ff0000"/>
<rect x="274" y="189" width="3" height="3" fill="#ff0000"/>
<rect x="279" y="183" width="1" height="19" fill="#ff0000"/>
<rect x="278" y="192" width="3" height="10" fill="#ff0000"/>
<rect x="283" y="201" width="1" height="15" fill="#ff0000"/>
<rect x="282" y="202" width="3" height="8" fill="#ff0000"/>
<rect x="287" y="198" width="1" height="21" fill="#2c4c4a"/>
<rect x="286" y="206" width="3" height="2" fill="#2c4c4a"/>
<rect x="291" y="169" width="1" height="41" fill="#2c4c4a"/>
<rect x="290" y="178" width="3" height="29" fill="#2c4c4a"/>
<rect x="291" y="179" width="1" height="27" fill="#3cae70"/>
<rect x="295" y="161" width="1" height="36" fill="#ff0000"/>
<rect x="294" y="178" width="3" height="18" fill="#ff0000"/>
<rect x="299" y="181" width="1" height="16" fill="#2c4c4a"/>
<rect x="298" y="189" width="3" height="6" fill="#2c4c4a"/>
<rect x="299" y="190" width="1" height="4" fill="#3cae70"/>
<rect x="303" y="190" width="1" height="24" fill="#2c4c4a"/>
<rect x="302" y="196" width="3" height="5" fill="#2c4c4a"/>
<rect x="303" y="197" width="1" height="3" fill="#3cae70"/>
<rect x="307" y="189" width="1" height="14" fill="#2c4c4a"/>
<rect x="306" y="194" width="3" height="2" fill="#2c4c4a"/>
<rect x="311" y="177" width="1" height="25" fill="#2c4c4a"/>
<rect x="310" y="194" width="3" height="2" fill="#2c4c4a"/>
<rect x="315" y="189" width="1" height="40" fill="#ff0000"/>
<rect x="314" y="193" width="3" height="36" fill="#ff0000"/>
<rect x="319" y="210" width="1" height="25" fill="#2c4c4a"/>
<rect x="318" y="220" width="3" height="8" fill="#2c4c4a"/>
<rect x="319" y="221" width="1" height="6" fill="#3cae70"/>
<rect x="323" y="219" width="1" height="14" fill="#ff0000"/>
<rect x="322" y="220" width="3" height="6" fill="#ff0000"/>
<rect x="327" y="216" width="1" height="13" fill="#2c4c4a"/>
<rect x="326" y="219" width="3" height="9" fill="#2c4c4a"/>
<rect x="327" y="220" width="1" height="7" fill="#3cae70"/>
<rect x="331" y="211" width="1" height="11" fill="#2c4c4a"/>
<rect x="330" y="213" width="3" height="6" fill="#2c4c4a"/>
<rect x="331" y="214" width="1" height="4" fill="#3cae70"/>
<rect x="335" y="207" width="1" height="19" fill="#ff0000"/>
<rect x="334" y="213" width="3" height="12" fill="#ff0000"/>
<rect x="339" y="217" width="1" height="23" fill="#2c4c4a"/>
<rect x="338" y="223" width="3" height="2" fill="#2c4c4a"/>
<rect x="343" y="182" width="1" height="42" fill="#2c4c4a"/>
<rect x="342" y="188" width="3" height="36" fill="#2c4c4a"/>
<rect x="343" y="189" width="1" height="34" fill="#3cae70"/>
<rect x="347" y="186" width="1" height="14" fill="#ff0000"/>
<rect x="346" y="188" width="3" height="11" fill="#ff0000"/>
<rect x="351" y="196" width="1" height="9" fill="#ff0000"/>
<rect x="350" y="197" width="3" height="6" fill="#ff0000"/>
<rect x="355" y="198" width="1" height="9" fill="#ff0000"/>
<rect x="354" y="202" width="3" height="2" fill="#ff0000"/>
<rect x="359" y="198" width="1" height="10" fill="#ff0000"/>
<rect x="358" y="202" width="3" height="3" fill="#ff0000"/>
<rect x="363" y="195" width="1" height="15" fill="#2c4c4a"/>
<rect x="362" y="200" width="3" height="5" fill="#2c4c4a"/>
<rect x="363" y="201" width="1" height="3" fill="#3cae70"/>
<rect x="367" y="178" width="1" height="26" fill="#2c4c4a"/>
<rect x="366" y="183" width="3" height="17" fill="#2c4c4a"/>
<rect x="367" y="184" width="1" height="15" fill="#3cae70"/>
<rect x="371" y="183" width="1" height="49" fill="#ff0000"/>
<rect x="370" y="183" width="3" height="8" fill="#ff0000"/>
<rect x="375" y="187" width="1" height="15" fill="#ff0000"/>
<rect x="374" y="191" width="3" height="9" fill="#ff0000"/>
<rect x="379" y="198" width="1" height="30" fill="#ff0000"/>
<rect x="378" y="200" width="3" height="24" fill="#ff0000"/>
<rect x="383" y="216" width="1" height="13" fill="#2c4c4a"/>
<rect x="382" y="219" width="3" height="4" fill="#2c4c4a"/>
<rect x="383" y="220" width="1" height="2" fill="#3cae70"/>
<rect x="387" y="214" width="1" height="28" fill="#ff0000"/>
<rect x="386" y="219" width="3" height="16" fill="#ff0000"/>
<rect x="391" y="210" width="1" height="38" fill="#2c4c4a"/>
<rect x="390" y="213" width="3" height="22" fill="#2c4c4a"/>
<rect x="391" y="214" width="1" height="20" fill="#3cae70"/>
<rect x="395" y="185" width="1" height="30" fill="#2c4c4a"/>
<rect x="394" y="199" width="3" height="14" fill="#2c4c4a"/>
<rect x="395" y="200" width="1" height="12" fill="#3cae70"/>
<rect x="399" y="183" width="1" height="18" fill="#2c4c4a"/>
<rect x="398" y="185" width="3" height="15" fill="#2c4c4a"/>
<rect x="399" y="186" width="1" height="13" fill="#3cae70"/>
<rect x="403" y="183" width="1" height="13" fill="#ff0000"/>
<rect x="402" y="185" width="3" height="7" fill="#ff0000"/>
<rect x="407" y="159" width="1" height="41" fill="#2c4c4a"/>
<rect x="406" y="161" width="3" height="31" fill="#2c4c4a"/>
<rect x="407" y="162" width="1" height="29" fill="#3cae70"/>
<rect x="411" y="140" width="1" height="29" fill="#2c4c4a"/>
<rect x="410" y="160" width="3" height="1" fill="#2c4c4a"/>
<rect x="415" y="148" width="1" height="34" fill="#ff0000"/>
<rect x="414" y="160" width="3" height="21" fill="#ff0000"/>
<rect x="419" y="176" width="1" height="12" fill="#ff0000"/>
<rect x="418" y="181" width="3" height="3" fill="#ff0000"/>
<rect x="423" y="181" width="1" height="10" fill="#2c4c4a"/>
<rect x="422" y="185" width="3" height="3" fill="#2c4c4a"/>
<rect x="423" y="186" width="1" height="1" fill="#3cae70"/>
<rect x="427" y="178" width="1" height="14" fill="#ff0000"/>
<rect x="426" y="184" width="3" height="3" fill="#ff0000"/>
<rect x="431" y="178" width="1" height="17" fill="#ff0000"/>
<rect x="430" y="186" width="3" height="5" fill="#ff0000"/>
<rect x="435" y="184" width="1" height="22" fill="#ff0000"/>
<rect x="434" y="190" width="3" height="8" fill="#ff0000"/>
<rect x="439" y="195" width="1" height="32" fill="#ff0000"/>
<rect x="438" y="196" width="3" height="30" fill="#ff0000"/>
<rect x="443" y="224" width="1" height="12" fill="#ff0000"/>
<rect x="442" y="225" width="3" height="4" fill="#ff0000"/>
<rect x="447" y="226" width="1" height="15" fill="#ff0000"/>
<rect x="446" y="229" width="3" height="11" fill="#ff0000"/>
<rect x="451" y="236" width="1" height="9" fill="#ff0000"/>
<rect x="450" y="238" width="3" height="4" fill="#ff0000"/>
<rect x="455" y="215" width="1" height="32" fill="#2c4c4a"/>
<rect x="454" y="216" width="3" height="26" fill="#2c4c4a"/>
<rect x="455" y="217" width="1" height="24" fill="#3cae70"/>
<rect x="459" y="208" width="1" height="30" fill="#ff0000"/>
<rect x="458" y="215" width="3" height="15" fill="#ff0000"/>
<rect x="463" y="225" width="1" height="38" fill="#ff0000"/>
<rect x="462" y="230" width="3" height="32" fill="#ff0000"/>
<rect x="467" y="254" width="1" height="17" fill="#ff0000"/>
<rect x="466" y="262" width="3" height="6" fill="#ff0000"/>
<rect x="471" y="265" width="1" height="7" fill="#ff0000"/>
<rect x="470" y="268" width="3" height="3" fill="#ff0000"/>
<rect x="475" y="262" width="1" height="12" fill="#2c4c4a"/>
<rect x="474" y="265" width="3" height="6" fill="#2c4c4a"/>
<rect x="475" y="266" width="1" height="4" fill="#3cae70"/>
<rect x="479" y="255" width="1" height="11" fill="#2c4c4a"/>
<rect x="478" y="261" width="3" height="4" fill="#2c4c4a"/>
<rect x="479" y="262" width="1" height="2" fill="#3cae70"/>
<rect x="483" y="260" width="1" height="23" fill="#ff0000"/>
<rect x="482" y="261" width="3" height="12" fill="#ff0000"/>
<rect x="487" y="262" width="1" height="28" fill="#ff0000"/>
<rect x="486" y="273" width="3" height="11" fill="#ff0000"/>
<rect x="491" y="279" width="1" height="13" fill="#ff0000"/>
<rect x="490" y="280" width="3" height="11" fill="#ff0000"/>
<rect x="495" y="282" width="1" height="11" fill="#2c4c4a"/>
<rect x="494" y="284" width="3" height="7" fill="#2c4c4a"/>
<rect x="495" y="285" width="1" height="5" fill="#3cae70"/>
<rect x="499" y="274" width="1" height="12" fill="#ff0000"/>
<rect x="498" y="284" width="3" height="2" fill="#ff0000"/>
<rect x="503" y="284" width="1" height="22" fill="#ff0000"/>
<rect x="502" y="284" width="3" height="21" fill="#ff0000"/>
<rect x="507" y="291" width="1" height="17" fill="#2c4c4a"/>
<rect x="506" y="302" width="3" height="3" fill="#2c4c4a"/>
<rect x="507" y="303" width="1" height="1" fill="#3cae70"/>
<rect x="511" y="298" width="1" height="13" fill="#ff0000"/>
<rect x="510" y="301" width="3" height="8" fill="#ff0000"/>
<rect x="515" y="300" width="1" height="18" fill="#ff0000"/>
<rect x="514" y="308" width="3" height="4" fill="#ff0000"/>
<rect x="519" y="310" width="1" height="6" fill="#ff0000"/>
<rect x="518" y="312" width="3" height="3" fill="#ff0000"/>
<rect x="523" y="309" width="1" height="13" fill="#2c4c4a"/>
<rect x="522" y="310" width="3" height="5" fill="#2c4c4a"/>
<rect x="523" y="311" width="1" height="3" fill="#3cae70"/>
<rect x="527" y="287" width="1" height="24" fill="#2c4c4a"/>
<rect x="526" y="292" width="3" height="18" fill="#2c4c4a"/>
<rect x="527" y="293" width="1" height="16" fill="#3cae70"/>
<rect x="531" y="290" width="1" height="16" fill="#ff0000"/>
<rect x="530" y="292" width="3" height="7" fill="#ff0000"/>
<rect x="535" y="297" width="1" height="17" fill="#ff0000"/>
<rect x="534" y="298" width="3" height="15" fill="#ff0000"/>
<rect x="539" y="300" width="1" height="19" fill="#ff0000"/>
<rect x="538" y="312" width="3" height="5" fill="#ff0000"/>
<rect x="543" y="311" width="1" height="21" fill="#2c4c4a"/>
<rect x="542" y="323" width="3" height="8" fill="#2c4c4a"/>
<rect x="543" y="324" width="1" height="6" fill="#3cae70"/>
<rect x="547" y="310" width="1" height="15" fill="#2c4c4a"/>
<rect x="546" y="310" width="3" height="14" fill="#2c4c4a"/>
<rect x="547" y="311" width="1" height="12" fill="#3cae70"/>
<rect x="551" y="304" width="1" height="10" fill="#2c4c4a"/>
<rect x="550" y="304" width="3" height="6" fill="#2c4c4a"/>
<rect x="551" y="305" width="1" height="4" fill="#3cae70"/>
</g>
<g stroke="#707070" stroke-width="1.15" fill="none">
<line x1="90" y1="95.8" x2="732.8" y2="185.8"/>
<line x1="341.7" y1="119.7" x2="834.7" y2="270.8"/>
<line x1="408.3" y1="139.2" x2="713.7" y2="309.7"/>
<line x1="104.2" y1="215.8" x2="745.8" y2="305.8"/>
<line x1="145" y1="210.8" x2="637.8" y2="361.7"/>
<line x1="299" y1="196.6" x2="604.7" y2="367.5"/>
</g>
<g fill="#000" stroke="#000">
<line x1="556" y1="305.2" x2="566" y2="291" stroke-width="3.4"/>
<polygon points="571,283 558.3,290.5 569.3,297.1" stroke="none"/>
<polygon points="571.9,283.3 575.2,283.3 606.3,399.8 602.9,400.7" stroke="none"/>
<polygon points="607.6,412.6 598.5,402 611.2,398.2" stroke="none"/>
</g>
<defs><linearGradient id="wm" x1="0" y1="64" x2="0" y2="388" gradientUnits="userSpaceOnUse"><stop offset="0" stop-color="#edf1f9"/><stop offset="1" stop-color="#e7ebf3"/></linearGradient></defs>
<g fill="url(#wm)" style="mix-blend-mode:multiply">
<path d="M297 64H556A65 65 0 0 1 621 129V193A65 65 0 0 1 556 258H427V193H556V129H362V387.5H297Z"/>
<path d="M427 323H557L588 387.5H427Z"/>
</g>
<g fill="#000" shape-rendering="crispEdges">
<rect x="2" y="2" width="872" height="1"/>
<rect x="2" y="2" width="1" height="430"/>
<rect x="873" y="2" width="1" height="430"/>
<rect x="2" y="431" width="872" height="1"/>
<rect x="874" y="32" width="2" height="1"/>
<rect x="874" y="65" width="2" height="1"/>
<rect x="874" y="98" width="2" height="1"/>
<rect x="874" y="131" width="2" height="1"/>
<rect x="874" y="164" width="2" height="1"/>
<rect x="874" y="197" width="2" height="1"/>
<rect x="874" y="230" width="2" height="1"/>
<rect x="874" y="263" width="2" height="1"/>
<rect x="874" y="296" width="2" height="1"/>
<rect x="874" y="329" width="2" height="1"/>
<rect x="874" y="362" width="2" height="1"/>
<rect x="874" y="395" width="2" height="1"/>
<rect x="874" y="428" width="2" height="1"/>
<rect x="3" y="432" width="1" height="3"/>
<rect x="67" y="432" width="1" height="3"/>
<rect x="131" y="432" width="1" height="3"/>
<rect x="195" y="432" width="1" height="3"/>
<rect x="259" y="432" width="1" height="3"/>
<rect x="323" y="432" width="1" height="3"/>
<rect x="387" y="432" width="1" height="3"/>
<rect x="451" y="432" width="1" height="3"/>
<rect x="515" y="432" width="1" height="3"/>
</g>
<g font-size="10px" stroke="#000" stroke-width="0.2">
<text x="879.5" y="35.4" textLength="31.6" lengthAdjust="spacingAndGlyphs">1.39855</text>
<text x="879.5" y="68.4" textLength="31.6" lengthAdjust="spacingAndGlyphs">1.39315</text>
<text x="879.5" y="101.4" textLength="31.6" lengthAdjust="spacingAndGlyphs">1.38760</text>
<text x="879.5" y="134.4" textLength="31.6" lengthAdjust="spacingAndGlyphs">1.38205</text>
<text x="879.5" y="167.4" textLength="31.6" lengthAdjust="spacingAndGlyphs">1.37665</text>
<text x="879.5" y="200.4" textLength="31.6" lengthAdjust="spacingAndGlyphs">1.37110</text>
<text x="879.5" y="233.4" textLength="31.6" lengthAdjust="spacingAndGlyphs">1.36570</text>
<text x="879.5" y="266.4" textLength="31.6" lengthAdjust="spacingAndGlyphs">1.36015</text>
<text x="879.5" y="299.4" textLength="31.6" lengthAdjust="spacingAndGlyphs">1.35475</text>
<text x="879.5" y="332.4" textLength="31.6" lengthAdjust="spacingAndGlyphs">1.34920</text>
<text x="879.5" y="365.4" textLength="31.6" lengthAdjust="spacingAndGlyphs">1.34380</text>
<text x="879.5" y="398.4" textLength="31.6" lengthAdjust="spacingAndGlyphs">1.33825</text>
<text x="879.5" y="431.4" textLength="31.6" lengthAdjust="spacingAndGlyphs">1.33285</text>
</g>
<rect x="876" y="299" width="39" height="10.8" fill="#000"/>
<text x="879.5" y="307.4" font-size="10px" stroke="#000" stroke-width="0.2" textLength="31.6" lengthAdjust="spacingAndGlyphs" style="fill:#fff;stroke:#fff">1.35341</text>
<g font-size="10px" stroke="#000" stroke-width="0.2">
<text x="2.25" y="443.4" textLength="45.6" lengthAdjust="spacingAndGlyphs">1 Mar 2023</text>
<text x="65.3" y="443.4" textLength="49.7" lengthAdjust="spacingAndGlyphs">6 Mar 04:00</text>
<text x="129.7" y="443.4" textLength="49.6" lengthAdjust="spacingAndGlyphs">8 Mar 20:00</text>
<text x="194.1" y="443.4" textLength="53.8" lengthAdjust="spacingAndGlyphs">13 Mar 12:00</text>
<text x="258.3" y="443.4" textLength="53.8" lengthAdjust="spacingAndGlyphs">16 Mar 04:00</text>
<text x="321.9" y="443.4" textLength="54.5" lengthAdjust="spacingAndGlyphs">20 Mar 20:00</text>
<text x="385.7" y="443.4" textLength="54.5" lengthAdjust="spacingAndGlyphs">23 Mar 12:00</text>
<text x="449.3" y="443.4" textLength="54.5" lengthAdjust="spacingAndGlyphs">28 Mar 04:00</text>
<text x="513.6" y="443.4" textLength="54.5" lengthAdjust="spacingAndGlyphs">30 Mar 20:00</text>
</g>
<polygon points="5.8,9 13.2,9 9.5,13.2" fill="#000"/>
<g font-size="10px" stroke="#000" stroke-width="0.2">
<text x="17.6" y="13.8" textLength="56.2" lengthAdjust="spacingAndGlyphs">USDCAD,H4</text>
<text x="80.3" y="13.8" textLength="32.3" lengthAdjust="spacingAndGlyphs">1.35234</text>
<text x="116.5" y="13.8" textLength="32.3" lengthAdjust="spacingAndGlyphs">1.35344</text>
<text x="152.6" y="13.8" textLength="32.3" lengthAdjust="spacingAndGlyphs">1.35196</text>
<text x="188.3" y="13.8" textLength="32.3" lengthAdjust="spacingAndGlyphs">1.35341</text>
</g>
</svg></body></html>
